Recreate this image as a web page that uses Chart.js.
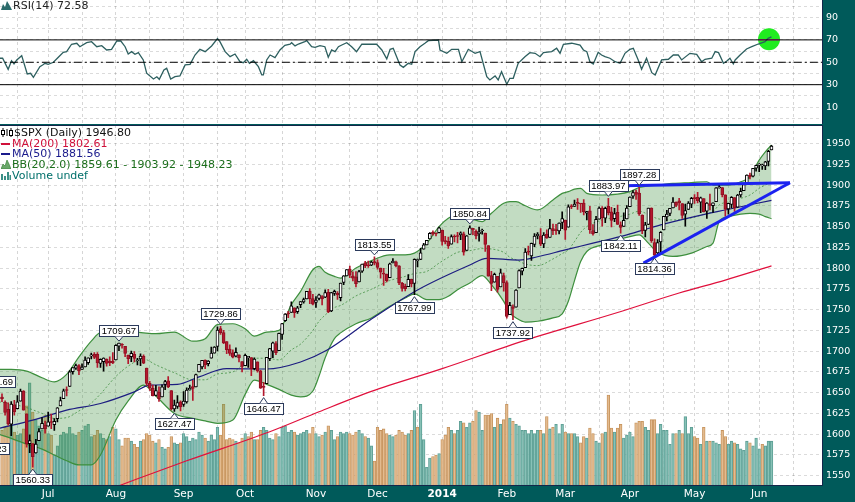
<!DOCTYPE html>
<html>
<head>
<meta charset="utf-8">
<title>$SPX Daily</title>
<script src="https://cdn.jsdelivr.net/npm/chart.js@4.4.1/dist/chart.umd.min.js"></script>
<style>
  html, body { margin: 0; padding: 0; background: #005a5a; }
  #wrap { position: relative; width: 855px; height: 502px; overflow: hidden; background: #005a5a; }
  #rsiBg { position: absolute; left: 0; top: 0; width: 822px; height: 124px; background: #ffffff; }
  #rsiChart { position: absolute; left: 0; top: 0; }
  #mainChart { position: absolute; left: 0; top: 125px; }
  .legend { position: absolute; left: 1px; font: 11px "DejaVu Sans", Verdana, sans-serif; line-height: 10.7px; white-space: nowrap; }
  .legend div { height: 10.7px; }
  .legend svg { vertical-align: -1px; margin-right: 1px; }
</style>
</head>
<body>
<div id="wrap">
  <div id="rsiBg"></div>
  <canvas id="rsiChart" width="855" height="125"></canvas>
  <canvas id="mainChart" width="855" height="377"></canvas>
  <div class="legend" style="top:1px;color:#222">
    <div><svg width="11" height="9"><path d="M0 9 L2 3 L4 6 L6 0 L9 5 L11 9Z" fill="#2b6b6b"/></svg>RSI(14) 72.58</div>
  </div>
  <div class="legend" style="top:128px">
    <div style="color:#111"><svg width="12" height="9"><path d="M2 0V9M6 1V8M10 0V9" stroke="#000" stroke-width="1"/><rect x="0.5" y="2.5" width="3" height="4" fill="#fff" stroke="#000"/><rect x="8.5" y="2.5" width="3" height="5" fill="#fff" stroke="#000"/></svg>$SPX (Daily) 1946.80</div>
    <div style="color:#d0103a"><svg width="10" height="9"><rect x="0" y="4" width="9" height="2" fill="#d0103a"/></svg>MA(200) 1802.61</div>
    <div style="color:#1a1a8c"><svg width="10" height="9"><rect x="0" y="4" width="9" height="2" fill="#1a1a8c"/></svg>MA(50) 1881.56</div>
    <div style="color:#1b6e1b"><svg width="10" height="9"><path d="M0 9 L2 4 L4 6 L6 0 L8 4 L10 9Z" fill="#6aa86a" stroke="#2f7a2f" stroke-width="0.6"/></svg>BB(20,2.0) 1859.61 - 1903.92 - 1948.23</div>
    <div style="color:#00706b"><svg width="10" height="9"><path d="M1 9V3M4 9V5M7 9V1M9.5 9V4" stroke="#3a8f86" stroke-width="2"/></svg>Volume undef</div>
  </div>
</div>
<script>
// ---- data (trading-day index 0 = 10 Jun 2013) ----
const monthDays = [15, 37, 59, 79, 102, 122, 143, 164, 183, 204, 225, 246];
const monthNames = ['Jul', 'Aug', 'Sep', 'Oct', 'Nov', 'Dec', '2014', 'Feb', 'Mar', 'Apr', 'May', 'Jun'];
const gridDays = [5, 15, 26, 37, 48, 59, 70, 79, 91, 102, 113, 122, 135, 143, 153, 164, 175, 183, 194, 204, 215, 225, 236, 246, 257];
const priceTicks = [1550, 1575, 1600, 1625, 1650, 1675, 1700, 1725, 1750, 1775, 1800, 1825, 1850, 1875, 1900, 1925, 1950];
const rsiTicks = [0, 10, 20, 30, 40, 50, 60, 70, 80, 90, 100];
const rsiTickLabels = [10, 30, 50, 70, 90];
const rsiLevels = [30, 50, 70];

// open, high, low, close
const ohlc = [
  // Jun 2013
  [1644.7,1648.7,1639.3,1642.8],[1638.6,1640.1,1622.9,1626.1],[1629.9,1637.7,1610.9,1612.5],[1612.2,1639.3,1598.2,1636.4],
  [1635.5,1640.8,1623.0,1626.7],[1630.6,1646.5,1630.3,1639.0],[1639.8,1654.2,1639.8,1651.8],[1651.8,1652.5,1628.9,1628.9],
  [1624.6,1624.6,1584.3,1588.2],[1588.6,1599.2,1577.7,1592.4],[1588.8,1588.8,1560.3,1573.1],[1577.5,1593.8,1577.1,1588.0],
  [1592.3,1606.8,1592.3,1603.3],[1606.4,1620.1,1606.4,1613.2],[1611.1,1615.9,1601.1,1606.3],
  // Jul
  [1609.8,1626.6,1609.8,1614.9],[1614.3,1624.3,1606.8,1614.1],[1611.5,1618.9,1604.6,1615.4],[1618.7,1632.1,1614.7,1631.9],
  [1634.2,1644.7,1634.2,1640.5],[1642.9,1654.2,1642.9,1652.3],[1652.9,1656.9,1646.0,1652.6],[1657.4,1676.6,1657.4,1675.0],
  [1675.3,1680.2,1672.3,1680.2],[1679.6,1684.5,1677.9,1682.5],[1682.7,1683.7,1671.8,1676.3],[1677.9,1684.8,1677.9,1680.9],
  [1681.1,1693.1,1681.1,1689.4],[1686.2,1692.1,1684.1,1692.1],[1694.4,1697.6,1690.7,1695.5],[1696.1,1698.4,1691.0,1692.4],
  [1696.1,1698.4,1680.3,1685.9],[1685.2,1690.9,1680.3,1690.3],[1687.3,1691.9,1676.0,1691.7],[1690.3,1690.9,1681.9,1685.3],
  [1687.9,1693.2,1682.4,1686.0],[1687.8,1698.4,1684.9,1685.7],
  // Aug
  [1689.4,1707.9,1689.4,1706.9],[1706.1,1709.7,1700.7,1709.7],[1708.0,1709.2,1703.6,1707.1],[1705.8,1705.8,1693.3,1697.4],
  [1695.3,1695.3,1684.9,1690.9],[1693.4,1700.2,1687.4,1697.5],[1696.1,1699.4,1687.0,1691.4],[1688.4,1691.5,1683.4,1689.5],
  [1690.7,1696.8,1682.6,1694.2],[1693.9,1695.5,1684.8,1685.4],[1679.6,1679.6,1658.6,1661.3],[1661.2,1663.6,1652.6,1655.8],
  [1655.3,1659.2,1646.1,1646.1],[1646.8,1658.9,1646.1,1652.4],[1650.7,1656.9,1639.4,1642.8],[1645.0,1659.6,1645.0,1657.0],
  [1659.9,1664.9,1653.7,1663.5],[1664.3,1669.5,1656.0,1656.8],[1652.5,1652.5,1629.1,1630.5],[1630.3,1641.2,1627.5,1635.0],
  [1633.5,1646.4,1630.9,1638.2],[1638.9,1640.1,1628.0,1633.0],
  // Sep
  [1635.9,1651.4,1633.4,1639.8],[1638.9,1655.7,1637.4,1653.1],[1653.3,1659.2,1653.1,1655.1],[1657.4,1664.8,1640.6,1655.2],
  [1656.9,1672.4,1656.9,1671.7],[1675.1,1684.1,1675.1,1684.0],[1681.0,1689.1,1678.7,1689.1],[1689.2,1689.6,1678.9,1683.4],
  [1685.0,1688.7,1682.2,1688.0],[1691.7,1704.9,1691.7,1697.6],[1697.7,1705.5,1697.7,1704.8],[1705.7,1729.4,1700.4,1725.5],
  [1727.3,1729.9,1720.2,1722.3],[1722.4,1725.2,1708.9,1709.9],[1711.4,1711.4,1697.1,1701.8],[1702.6,1707.6,1694.9,1697.4],
  [1698.0,1701.7,1691.9,1692.8],[1694.1,1703.9,1693.1,1698.7],[1695.5,1695.5,1687.1,1691.8],[1687.3,1687.3,1674.9,1681.6],
  // Oct
  [1682.4,1696.6,1682.4,1695.0],[1691.9,1693.9,1680.3,1693.9],[1692.4,1692.4,1670.4,1678.7],[1678.8,1691.9,1677.3,1690.5],
  [1687.2,1687.2,1674.7,1676.1],[1676.2,1676.8,1655.0,1655.5],[1657.0,1662.5,1646.5,1656.4],[1660.9,1692.6,1660.9,1692.6],
  [1691.1,1703.4,1688.5,1703.2],[1699.9,1711.0,1692.1,1710.1],[1709.2,1711.6,1695.9,1698.1],[1700.5,1721.8,1700.5,1721.5],
  [1720.2,1733.4,1714.1,1733.2],[1736.7,1745.3,1735.7,1744.5],[1745.2,1747.8,1740.3,1744.7],[1746.5,1759.3,1746.5,1754.7],
  [1752.3,1752.3,1740.5,1746.4],[1747.5,1753.9,1745.5,1752.1],[1756.0,1759.8,1752.5,1759.8],[1759.4,1764.0,1757.7,1762.1],
  [1762.9,1772.1,1762.9,1772.0],[1772.3,1775.2,1757.2,1763.3],[1763.2,1768.5,1755.7,1756.5],
  // Nov
  [1758.7,1765.7,1752.7,1761.6],[1763.4,1768.8,1761.6,1767.9],[1765.7,1767.0,1755.8,1763.0],[1765.0,1773.7,1764.4,1770.5],
  [1770.7,1774.5,1746.2,1747.2],[1748.4,1770.8,1747.6,1770.6],[1769.6,1773.4,1767.1,1771.9],[1769.5,1771.8,1762.3,1767.7],
  [1764.4,1782.0,1760.6,1782.0],[1782.8,1791.0,1780.2,1790.6],[1790.7,1798.2,1790.7,1798.2],[1798.8,1802.3,1788.4,1791.5],
  [1790.8,1795.5,1784.7,1787.9],[1789.6,1795.7,1777.2,1781.4],[1783.5,1797.2,1783.5,1795.9],[1796.2,1804.8,1794.7,1804.8],
  [1806.3,1808.1,1800.6,1802.5],[1802.9,1808.4,1800.8,1802.8],[1803.5,1808.3,1802.8,1807.2],[1808.0,1813.6,1803.9,1805.8],
  // Dec
  [1806.6,1810.0,1798.6,1800.9],[1800.1,1800.1,1787.9,1795.2],[1794.1,1799.8,1779.1,1792.8],[1792.8,1792.8,1783.4,1785.0],
  [1788.4,1806.0,1788.4,1805.1],[1806.2,1811.5,1806.2,1808.4],[1807.6,1808.5,1801.4,1802.6],[1802.8,1802.9,1780.1,1782.2],
  [1781.7,1782.9,1772.3,1775.5],[1778.0,1780.9,1772.4,1775.3],[1777.5,1792.2,1777.5,1786.5],[1786.5,1786.8,1777.2,1781.0],
  [1781.5,1811.1,1768.0,1810.7],[1809.0,1810.9,1801.3,1809.6],[1810.4,1823.8,1810.3,1818.3],[1822.9,1829.8,1822.9,1828.0],
  [1828.0,1833.3,1828.0,1833.3],[1835.0,1842.8,1835.0,1842.0],[1843.0,1844.9,1839.8,1841.4],[1841.5,1842.5,1838.8,1841.1],
  [1842.6,1849.4,1842.4,1848.4],
  // Jan 2014
  [1845.9,1845.9,1827.7,1832.0],[1833.2,1838.2,1829.1,1831.4],[1832.3,1837.2,1823.7,1826.8],[1828.7,1840.1,1828.7,1837.9],
  [1837.9,1840.0,1831.4,1837.5],[1839.0,1843.2,1830.4,1838.1],[1840.1,1843.8,1834.1,1842.4],[1841.3,1843.5,1815.5,1819.2],
  [1821.4,1839.3,1821.4,1838.9],[1840.5,1850.8,1840.5,1848.4],[1848.0,1848.0,1840.3,1845.9],[1844.2,1846.0,1835.2,1838.7],
  [1841.1,1849.3,1832.4,1843.8],[1844.7,1846.9,1840.9,1844.9],[1842.3,1842.3,1820.1,1828.5],[1827.0,1827.0,1790.3,1790.3],
  [1791.0,1796.0,1772.9,1781.6],[1783.0,1793.9,1783.0,1792.5],[1790.2,1790.2,1771.0,1774.2],[1777.2,1798.8,1777.2,1794.2],
  [1790.9,1793.9,1772.3,1782.6],
  // Feb
  [1782.7,1784.8,1739.7,1741.9],[1743.8,1758.7,1743.8,1755.2],[1753.4,1755.8,1737.9,1751.6],[1753.0,1774.1,1753.0,1773.4],
  [1776.0,1798.0,1776.0,1797.0],[1796.2,1799.9,1791.8,1799.8],[1800.5,1823.5,1800.5,1819.3],[1820.1,1826.6,1816.0,1819.3],
  [1814.8,1830.2,1809.2,1829.8],[1828.5,1841.7,1825.9,1838.6],[1839.0,1842.9,1835.0,1840.8],[1838.9,1847.5,1827.0,1828.8],
  [1829.2,1842.8,1824.6,1839.8],[1841.1,1846.1,1835.6,1836.3],[1836.8,1858.7,1836.8,1847.6],[1847.7,1852.9,1840.2,1845.1],
  [1845.8,1852.6,1840.7,1845.2],[1844.9,1854.5,1841.1,1854.3],[1855.1,1867.9,1847.5,1859.5],
  // Mar
  [1857.7,1857.7,1834.4,1845.7],[1849.2,1876.2,1849.2,1873.9],[1874.1,1876.5,1871.6,1873.8],[1874.2,1881.9,1874.2,1877.0],
  [1878.5,1883.6,1870.6,1878.0],[1877.9,1877.9,1867.0,1877.2],[1878.3,1882.4,1863.9,1867.6],[1866.2,1868.4,1858.0,1868.2],
  [1869.1,1874.4,1841.9,1846.3],[1845.1,1852.4,1839.6,1841.1],[1842.8,1862.3,1842.8,1858.8],[1858.9,1873.8,1858.9,1872.3],
  [1872.3,1874.1,1850.4,1860.8],[1860.1,1873.5,1854.6,1872.0],[1874.5,1884.0,1864.1,1866.5],[1867.7,1873.3,1849.7,1857.4],
  [1859.5,1871.9,1856.0,1865.6],[1867.1,1875.9,1852.6,1852.6],[1852.1,1855.6,1842.1,1849.0],[1850.1,1866.6,1850.1,1857.6],
  [1859.2,1875.2,1859.2,1872.3],
  // Apr
  [1874.0,1885.8,1874.0,1885.5],[1886.6,1893.2,1883.8,1890.9],[1891.4,1893.8,1882.7,1888.8],[1890.3,1897.3,1863.3,1865.1],
  [1863.9,1864.0,1841.5,1845.0],[1845.5,1855.0,1837.5,1852.0],[1852.6,1872.4,1852.4,1872.2],[1872.3,1872.5,1830.9,1833.1],
  [1830.7,1835.1,1814.4,1815.7],[1818.2,1834.2,1815.8,1830.6],[1831.5,1844.0,1816.3,1843.0],[1846.0,1862.3,1846.0,1862.3],
  [1861.7,1869.6,1856.7,1864.9],[1865.8,1871.9,1863.2,1871.9],[1872.6,1884.9,1872.6,1879.6],[1879.3,1879.8,1873.9,1875.4],
  [1881.0,1884.1,1870.2,1878.6],[1877.7,1877.7,1859.7,1863.4],[1865.0,1877.0,1850.6,1869.4],[1870.8,1880.0,1870.8,1878.3],
  [1877.1,1885.2,1872.7,1884.0],
  // May
  [1884.4,1888.6,1878.0,1883.7],[1885.3,1891.3,1878.5,1881.1],[1879.5,1885.5,1866.8,1884.7],[1883.7,1883.7,1867.7,1867.7],
  [1868.5,1878.8,1859.8,1878.2],[1877.4,1889.1,1870.1,1875.6],[1875.3,1878.6,1867.0,1878.5],[1880.0,1897.1,1880.0,1896.7],
  [1896.8,1902.2,1896.1,1897.5],[1897.1,1897.1,1885.8,1888.5],[1888.2,1888.2,1862.4,1870.9],[1871.2,1878.3,1864.8,1877.9],
  [1876.7,1886.0,1872.4,1885.1],[1884.9,1884.9,1868.1,1872.8],[1873.3,1888.8,1873.3,1888.0],[1888.2,1896.3,1885.4,1892.5],
  [1893.3,1901.3,1893.3,1900.5],[1902.0,1912.3,1902.0,1911.9],[1911.8,1914.5,1907.3,1909.8],[1910.6,1920.0,1909.8,1920.0],
  [1920.3,1924.0,1916.6,1923.6],
  // Jun 2014
  [1923.9,1925.9,1916.0,1925.0],[1923.1,1925.1,1918.8,1924.2],[1923.1,1928.6,1918.6,1927.9],[1928.5,1941.7,1922.9,1940.5],
  [1942.4,1947.8,1942.4,1946.8]
];

// volume, billions of shares
const volumes = [
  3.6,3.8,3.9,4.2,3.5,3.3,3.4,3.7,5.2,6.7,4.8,4.3,3.9,3.6,4.6,
  3.4,3.3,2.0,2.6,3.3,3.5,3.4,3.8,3.4,3.3,3.5,3.6,3.9,4.0,3.2,3.3,3.6,3.4,3.1,3.0,3.2,3.8,
  3.7,3.0,2.6,3.1,3.1,2.9,2.7,2.5,2.9,3.0,3.4,3.3,2.9,2.8,3.0,2.5,2.4,2.5,3.2,2.8,2.7,2.8,
  3.4,3.2,2.9,3.1,3.0,3.5,3.3,3.1,2.9,3.3,3.0,3.8,3.3,5.3,3.0,3.1,3.0,2.9,2.8,3.1,
  3.4,3.2,3.5,3.0,3.0,3.6,3.8,3.6,3.1,3.0,3.4,3.2,3.8,3.9,3.5,3.6,3.5,3.3,3.4,3.5,3.6,3.4,3.8,
  3.4,3.2,3.3,3.5,3.9,3.6,3.0,3.2,3.5,3.4,3.5,3.4,3.3,3.5,3.6,3.4,3.2,3.1,2.6,1.6,
  3.8,3.6,3.7,3.4,3.3,3.2,3.3,3.6,3.5,3.3,3.4,3.6,4.9,3.8,5.3,3.0,1.2,1.8,1.9,2.0,2.1,
  3.0,3.3,3.8,3.6,3.4,3.6,4.2,4.1,3.8,4.1,4.2,4.9,4.8,3.6,4.6,4.6,4.7,3.8,4.4,4.0,4.3,
  5.3,4.4,4.2,4.0,3.9,3.6,3.6,3.4,3.6,3.4,3.6,3.6,3.4,4.5,3.7,3.8,4.0,3.4,4.0,
  3.5,3.4,3.4,3.4,3.2,2.8,3.2,3.1,3.75,3.4,2.9,2.8,3.4,3.5,5.9,3.75,3.5,3.75,4.0,3.1,3.3,
  3.5,3.2,4.1,4.2,4.2,3.8,3.6,4.3,4.3,3.4,4.0,3.6,3.6,2.7,3.4,3.4,3.6,3.4,4.5,3.4,3.8,
  3.2,3.1,2.7,3.8,2.9,2.9,2.9,2.8,2.7,3.6,3.2,2.7,2.9,2.8,2.7,2.4,2.3,2.9,2.8,2.6,3.1,
  2.4,2.7,2.6,2.9,2.9
];

// [day, upper, middle, lower]
const bbRows = [
  [-1,1678,1639,1600],[3,1678,1636.5,1595],[8,1676,1632,1588],[13,1668,1625,1582],[17,1663,1619,1575],
  [21,1672,1620,1568],[25,1693,1628,1563],[29,1712,1637.5,1563],[32,1722,1648.5,1575],[37,1722,1669.5,1617],
  [41,1724,1682,1640],[46,1722,1690.5,1659],[50,1721,1683.5,1646],[56,1723,1674,1625],[62,1712,1665.5,1619],
  [66,1715,1665.5,1616],[70,1732,1672.5,1613],[75,1733,1675,1617],[79,1727,1686,1648],[82,1718,1691.5,1665],
  [86,1723,1691.5,1660],[90,1725,1689.5,1654],[94,1756,1701.5,1647],[97,1772,1708.5,1645],[101,1798,1725,1652],
  [103,1802,1736,1670],[105,1795,1743.5,1692],[108,1790,1752.5,1715],[110,1788,1755,1722],[115,1800,1766.5,1733],
  [120,1809,1774.5,1740],[126,1816,1785,1754],[131,1816,1790,1764],[134,1818,1793.5,1769],[138,1830,1796,1762],
  [142,1850,1806,1762],[145,1860,1813,1766],[148,1864,1819,1774],[152,1860,1821,1782],[156,1856,1823.5,1791],
  [159,1866,1823,1780],[163,1878,1819,1760],[165,1880,1813,1746],[167,1880,1810,1740],[170,1875,1805,1735],
  [174,1870,1803,1736],[179,1882,1811,1740],[182,1890,1817.5,1745],[184,1892,1822,1760],[186,1895,1832,1785],
  [188,1896,1843,1808],[190,1890,1850,1820],[195,1888,1858,1828],[200,1889,1861.5,1834],[204,1892,1865,1838],
  [207,1897,1868.5,1840],[210,1899,1864.5,1830],[213,1900,1859.5,1819],[218,1902,1858,1814],[224,1903,1860.5,1818],
  [229,1904,1866,1826],[231,1900,1868,1830],[233,1900,1876,1856],[236,1900,1880,1862],[240,1904,1884,1865],
  [243,1910,1888,1866],[246,1930,1896,1865],[248,1940,1900,1862],[250,1948.2,1903.9,1859.6]
];

const ma50Points = [
  [-1,1607],[10,1617],[21,1629],[32,1637],[43,1651],[48,1659],[57,1660],[64,1669],[73,1679],[86,1678.5],
  [97,1687],[105.5,1701],[119.6,1737.5],[135,1773.6],[152,1803.7],[157.5,1811.8],[168,1809.7],[174,1813.7],
  [183,1822],[192,1830],[203,1840],[214,1852],[225,1862],[235,1870],[250,1881.6]
];
const ma200Points = [
  [30,1527],[38,1538],[60,1568],[87,1603],[103,1627],[120,1651.5],[143,1679],[170,1713],[200,1746.5],
  [220,1770],[235,1785.6],[250,1802.6]
];

const rsiPoints = [
  [-0.7,53.6],[0.2,53.6],[2.0,43.7],[3.1,51.4],[3.9,48.5],[4.8,52.1],[6.4,55.9],[8.2,39.6],[9.3,40.2],[10.2,36.6],
  [12.3,46.1],[13.2,47.6],[14.0,49.1],[15.0,48.2],[16.7,50.0],[18.3,54.5],[19.9,58.9],[21.0,59.5],[22.6,66.1],[24.3,67.0],
  [25.3,63.9],[27.5,67.5],[29.1,68.4],[30.8,63.9],[32.4,64.8],[34.0,61.0],[35.6,61.6],[37.3,69.0],[38.6,69.0],[40.0,63.9],
  [41.0,57.4],[42.1,59.5],[43.2,57.1],[44.3,58.6],[45.9,52.1],[47.0,40.2],[49.2,35.1],[50.3,37.1],[51.1,34.8],[52.6,43.1],
  [53.5,44.6],[54.8,35.1],[56.2,37.1],[57.8,37.8],[59.5,47.6],[61.1,48.2],[62.7,56.5],[64.3,61.6],[66.0,59.5],[68.1,64.6],
  [70.0,71.1],[70.8,68.4],[72.5,59.5],[74.1,55.0],[75.7,57.4],[77.3,50.5],[78.4,49.6],[79.5,52.7],[80.4,49.1],[81.7,51.4],
  [83.3,46.1],[84.4,38.7],[84.9,38.7],[86.0,52.1],[87.1,56.5],[88.7,54.1],[90.3,61.0],[91.9,65.2],[93.6,66.1],[94.1,67.5],
  [95.2,64.6],[96.3,66.3],[98.4,68.4],[99.0,69.3],[100.6,63.9],[101.7,63.4],[103.3,64.8],[104.9,63.9],[106.0,54.5],[107.1,61.0],
  [108.2,59.5],[109.3,63.9],[110.4,65.4],[112.0,67.5],[113.6,63.9],[115.2,59.5],[116.9,66.1],[118.5,66.1],[121.7,66.1],[123.4,61.0],
  [125.0,53.0],[126.1,61.6],[127.1,62.5],[129.3,47.6],[130.4,45.5],[132.0,49.1],[133.1,48.2],[134.2,59.5],[135.8,63.9],[137.4,67.0],
  [138.5,69.3],[141.8,69.9],[142.3,61.0],[144.5,58.0],[146.1,61.6],[148.3,61.6],[149.4,50.5],[151.5,61.6],[153.7,58.0],[155.3,59.5],
  [157.5,37.1],[158.5,34.2],[160.2,37.8],[161.2,34.2],[162.3,41.6],[164.0,30.4],[165.0,35.7],[166.1,35.7],[167.7,49.1],[169.9,55.0],
  [171.5,58.6],[173.2,58.0],[174.8,55.0],[175.9,58.6],[178.6,59.5],[180.2,62.5],[181.3,58.0],[182.4,66.1],[185.1,67.0],[187.8,65.4],
  [188.9,61.0],[190.0,59.5],[191.0,50.5],[192.1,48.5],[193.7,58.9],[194.8,56.5],[195.9,55.0],[197.5,53.6],[199.2,50.5],[200.8,49.1],
  [202.4,58.0],[204.0,61.6],[205.1,62.5],[206.7,52.1],[207.8,43.7],[209.4,53.6],[211.1,40.7],[212.2,38.7],[214.3,52.1],[216.5,52.7],
  [218.1,56.5],[219.7,56.5],[220.8,52.1],[223.5,58.0],[225.7,57.1],[227.3,50.5],[228.4,52.7],[230.6,53.6],[231.7,59.5],[232.8,58.6],
  [234.4,49.1],[235.5,51.2],[236.5,53.6],[237.6,48.5],[238.2,52.1],[239.8,56.5],[241.9,61.9],[243.6,63.9],[245.7,66.3],[247.9,68.4],
  [248.9,71.4],[250,72.6]
];
const rsiSignal = [249.2, 70.5];
const rsiSignalMark = [[245.8, 70.1], [252.6, 70.1]];

// price labels on highs / lows
const labelDays = [-2, -4, 10, 38, 56, 71, 85, 121, 134, 152, 166, 197, 201, 207, 212];
const labelPrices = [1648.69, 1598.23, 1560.33, 1709.67, 1627.47, 1729.86, 1646.47, 1813.55, 1767.99, 1850.84, 1737.92, 1883.97, 1842.11, 1897.28, 1814.36];
const labelSides = ['up', 'down', 'down', 'up', 'down', 'up', 'down', 'up', 'down', 'up', 'down', 'up', 'down', 'up', 'down'];

// hand-drawn trend lines: [[day, price], [day, price]]
const trendLines = [
  [[201.9, 1899.2], [256, 1902.8]],
  [[208.4, 1806], [256, 1902.8]]
];

// ---- drawing ----
const X_MIN = -0.65, X_MAX = 266.41;

const panelPlugin = {
  id: 'panel',
  beforeDraw(chart, args, opts) {
    if (!opts.fill) return;
    const { ctx, chartArea: a } = chart;
    ctx.save();
    ctx.fillStyle = '#ffffff';
    ctx.fillRect(a.left, a.top, a.right - a.left, a.bottom - a.top);
    ctx.restore();
  },
  afterDraw(chart, args, opts) {
    const { ctx, chartArea: a } = chart;
    ctx.save();
    ctx.strokeStyle = '#14264a';
    ctx.lineWidth = 1;
    ctx.beginPath();
    const r = Math.round(a.right) + 0.5;
    ctx.moveTo(r, a.top); ctx.lineTo(r, a.bottom);
    if (opts.top) { ctx.moveTo(a.left, a.top + 0.5); ctx.lineTo(r, a.top + 0.5); }
    if (opts.bottom) { const b = Math.round(a.bottom) - 0.5; ctx.moveTo(a.left, b); ctx.lineTo(r, b); }
    ctx.stroke();
    ctx.restore();
  }
};

const priceLabelPlugin = {
  id: 'priceLabels',
  afterDatasetsDraw(chart) {
    const { ctx } = chart;
    const xs = chart.scales.x, ys = chart.scales.y;
    ctx.save();
    ctx.font = '9.5px "Liberation Sans", Arial, sans-serif';
    ctx.textAlign = 'center';
    ctx.textBaseline = 'middle';
    ctx.lineWidth = 1;
    labelDays.forEach((d, i) => {
      const px = xs.getPixelForValue(d);
      const py = ys.getPixelForValue(labelPrices[i]);
      const txt = labelPrices[i].toFixed(2);
      const w = Math.round(ctx.measureText(txt).width) + 5, h = 11;
      const up = labelSides[i] === 'up';
      const edge = Math.round(up ? py - 7 : py + 7) + 0.5;
      const top = up ? edge - h : edge;
      const left = Math.round(px - w / 2) + 0.5;
      ctx.fillStyle = '#ffffff';
      ctx.strokeStyle = '#2b3a5c';
      ctx.fillRect(left, top, w, h);
      ctx.strokeRect(left, top, w, h);
      const tip = up ? py - 2 : py + 2;
      ctx.beginPath();
      ctx.moveTo(px - 4, edge); ctx.lineTo(px, tip); ctx.lineTo(px + 4, edge);
      ctx.fill();
      ctx.stroke();
      ctx.fillStyle = '#000000';
      ctx.fillText(txt, px, top + h / 2 + 0.5);
    });
    ctx.restore();
  }
};

function dayAxis(height, showLabels) {
  return {
    type: 'linear', min: X_MIN, max: X_MAX, offset: false,
    afterBuildTicks: s => { s.ticks = gridDays.map(v => ({ value: v })); },
    afterFit: s => { s.height = height; s.paddingLeft = 0; s.paddingRight = 0; },
    ticks: {
      autoSkip: false, maxRotation: 0, minRotation: 0, color: '#ffffff', padding: 2,
      font: c => ({ family: 'DejaVu Sans', size: showLabels ? 10.5 : 1,
        weight: c.tick && monthNames[monthDays.indexOf(c.tick.value)] === '2014' ? 'bold' : 'normal' }),
      callback: v => { const k = monthDays.indexOf(v); return (!showLabels || k < 0) ? '' : monthNames[k]; }
    },
    grid: { color: 'rgba(0,0,0,0.16)', drawTicks: false, offset: false },
    border: { display: false, dash: [3, 3] }
  };
}

function valueAxis(min, max, tickValues, labelFor) {
  return {
    position: 'right', min: min, max: max,
    afterBuildTicks: s => { s.ticks = tickValues.map(v => ({ value: v })); },
    afterFit: s => { s.width = 33; s.paddingTop = 0; s.paddingBottom = 0; },
    ticks: { autoSkip: false, color: '#ffffff', font: { family: 'DejaVu Sans', size: 9.5 }, padding: 4, callback: labelFor },
    grid: { color: 'rgba(0,0,0,0.14)', drawTicks: false },
    border: { display: false, dash: [3, 3] }
  };
}

const toXY = p => ({ x: p[0], y: p[1] });
const hLine = v => [{ x: X_MIN - 2, y: v }, { x: X_MAX + 2, y: v }];

// RSI panel
new Chart(document.getElementById('rsiChart'), {
  type: 'bar',
  data: {
    datasets: [
      ...rsiLevels.map(v => ({
        type: 'line', data: hLine(v), borderColor: '#000', borderWidth: 1, pointRadius: 0,
        borderDash: v === 50 ? [8, 3, 2, 3] : []
      })),
      { type: 'line', data: rsiPoints.map(toXY), borderColor: '#2d5f5f', borderWidth: 1.3, pointRadius: 0 },
      { type: 'line', data: rsiSignalMark.map(toXY), borderColor: '#ff33cc', borderWidth: 1.3, pointRadius: 0 },
      { type: 'line', data: [{ x: rsiSignal[0], y: rsiSignal[1] }], showLine: false, pointRadius: 11,
        pointBorderWidth: 0, pointBackgroundColor: 'rgba(20,235,20,0.95)' }
    ]
  },
  options: {
    responsive: false, animation: false, events: [],
    layout: { padding: 0, autoPadding: false },
    plugins: { legend: { display: false }, tooltip: { enabled: false },
      panel: { fill: false, top: false, bottom: false } },
    scales: {
      x: dayAxis(1, false),
      y: valueAxis(-5.1, 105.6, rsiTicks, v => rsiTickLabels.includes(v) ? String(v) : '')
    }
  },
  plugins: [panelPlugin]
});

// price panel
const upCandle = ohlc.map(r => r[3] >= r[0]);
const volUp = ohlc.map((r, i) => r[3] >= (i ? ohlc[i - 1][3] : r[0]));
const RED = '#b3182d';

new Chart(document.getElementById('mainChart'), {
  type: 'bar',
  data: {
    datasets: [
      { type: 'bar', yAxisID: 'yv', order: 20, grouped: false, barThickness: 2.7, borderWidth: 0.8,
        borderSkipped: false,
        data: volumes.map((v, i) => ({ x: i, y: v })),
        backgroundColor: volUp.map(u => u ? 'rgba(125,190,178,0.72)' : 'rgba(228,186,140,0.85)'),
        borderColor: volUp.map(u => u ? '#5d9e94' : '#c4915a') },
      { type: 'line', order: 15, data: bbRows.map(r => ({ x: r[0], y: r[1] })), borderColor: '#3d8f3d',
        borderWidth: 1.2, pointRadius: 0, cubicInterpolationMode: 'monotone', fill: '+1',
        backgroundColor: 'rgba(70,150,70,0.33)' },
      { type: 'line', order: 14, data: bbRows.map(r => ({ x: r[0], y: r[3] })), borderColor: '#3d8f3d',
        borderWidth: 1.2, pointRadius: 0, cubicInterpolationMode: 'monotone', fill: false },
      { type: 'line', order: 13, data: bbRows.map(r => ({ x: r[0], y: r[2] })), borderColor: 'rgba(60,140,60,0.75)',
        borderWidth: 1, borderDash: [2, 2], pointRadius: 0, cubicInterpolationMode: 'monotone', fill: false },
      { type: 'line', order: 10, data: ma200Points.map(toXY), borderColor: '#e0103c', borderWidth: 1.2,
        pointRadius: 0, cubicInterpolationMode: 'monotone', fill: false },
      { type: 'line', order: 9, data: ma50Points.map(toXY), borderColor: '#1c1c80', borderWidth: 1.2,
        pointRadius: 0, cubicInterpolationMode: 'monotone', fill: false },
      { type: 'bar', order: 5, grouped: false, barThickness: 1, borderWidth: 0, minBarLength: 1,
        data: ohlc.map((r, i) => ({ x: i, y: [r[2], r[1]] })),
        backgroundColor: upCandle.map(u => u ? '#000000' : RED) },
      { type: 'bar', order: 4, grouped: false, barThickness: 3, borderWidth: 1, minBarLength: 1,
        borderSkipped: false,
        data: ohlc.map((r, i) => ({ x: i, y: [r[0], r[3]] })),
        backgroundColor: upCandle.map(u => u ? '#ffffff' : RED),
        borderColor: upCandle.map(u => u ? '#000000' : '#8e1022') },
      ...trendLines.map(t => ({ type: 'line', order: 1, data: t.map(toXY), borderColor: '#1b22f0',
        borderWidth: 3, pointRadius: 0, fill: false }))
    ]
  },
  options: {
    responsive: false, animation: false, events: [],
    layout: { padding: 0, autoPadding: false },
    plugins: { legend: { display: false }, tooltip: { enabled: false },
      panel: { fill: true, top: true, bottom: true } },
    scales: {
      x: dayAxis(16.3, true),
      y: valueAxis(1538, 1972.3, priceTicks, v => String(v)),
      yv: { display: false, min: 0, max: 23.5 }
    }
  },
  plugins: [panelPlugin, priceLabelPlugin]
});
</script>
</body>
</html>
